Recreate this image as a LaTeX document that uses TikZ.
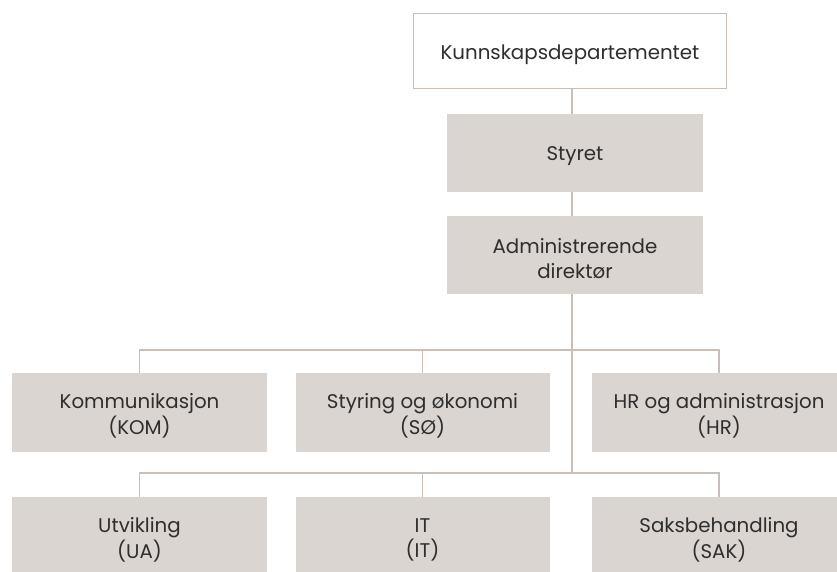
\documentclass[tikz,border=0pt]{standalone}
\usepackage{fontspec}
\setmainfont{Poppins}
\definecolor{boxfill}{HTML}{DAD5D1}
\definecolor{linecol}{HTML}{C8C0B8}
\definecolor{txt}{HTML}{2E2E2E}
\begin{document}
\begin{tikzpicture}[x=1pt,y=-1pt,
  unit/.style={rectangle, fill=boxfill, draw=none, inner sep=0pt},
  topbox/.style={unit, fill=white, draw=linecol, line width=1.6pt},
  lbl/.style={inner sep=0pt, align=center, text=txt, font=\fontsize{19.8}{25.5}\selectfont, yshift=-3.5pt},
  t/.style={label={[lbl]center:#1}},
  conn/.style={draw=linecol, line width=1.5pt}]
\useasboundingbox (0,0) rectangle (837,571);
\clip (0,0) rectangle (837,571);
\fill[white] (0,0) rectangle (837,571);
% top levels
\node[topbox, minimum width=313pt, minimum height=75pt, t={Kunnskapsdepartementet}] (kd) at (570,51) {};
\node[unit, minimum width=256pt, minimum height=78pt, t={Styret}] (styret) at (575,153) {};
\node[unit, minimum width=256pt, minimum height=78pt, t={Administrerende\\direktør}] (adm) at (575,255) {};
% row 1
\node[unit, minimum width=255pt, minimum height=79pt, t={Kommunikasjon\\(KOM)}] (kom) at (139.5,412.5) {};
\node[unit, minimum width=254pt, minimum height=79pt, t={Styring og økonomi\\(SØ)}] (so) at (422.5,412.5) {};
\node[unit, minimum width=254pt, minimum height=79pt, t={HR og administrasjon\\(HR)}] (hr) at (719,412.5) {};
% row 2
\node[unit, minimum width=255pt, minimum height=79pt, t={Utvikling\\(UA)}] (ua) at (139.5,536.5) {};
\node[unit, minimum width=254pt, minimum height=79pt, t={IT\\(IT)}] (it) at (422.5,536.5) {};
\node[unit, minimum width=254pt, minimum height=79pt, t={Saksbehandling\\(SAK)}] (sak) at (719,536.5) {};
% connector coordinates
\coordinate (bus1) at (572,350);
\coordinate (bus2) at (572,473);
% connectors
\draw[conn] (kd.south -| bus1) -- (styret.north -| bus1);
\draw[conn] (styret.south -| bus1) -- (adm.north -| bus1);
\draw[conn] (adm.south -| bus1) -- (bus2);
\draw[conn] (kom.north) -- (kom.north |- bus1) -- (hr.north |- bus1) -- (hr.north);
\draw[conn] (so.north) -- (so.north |- bus1);
\draw[conn] (ua.north) -- (ua.north |- bus2) -- (sak.north |- bus2) -- (sak.north);
\draw[conn] (it.north) -- (it.north |- bus2);
\end{tikzpicture}
\end{document}
